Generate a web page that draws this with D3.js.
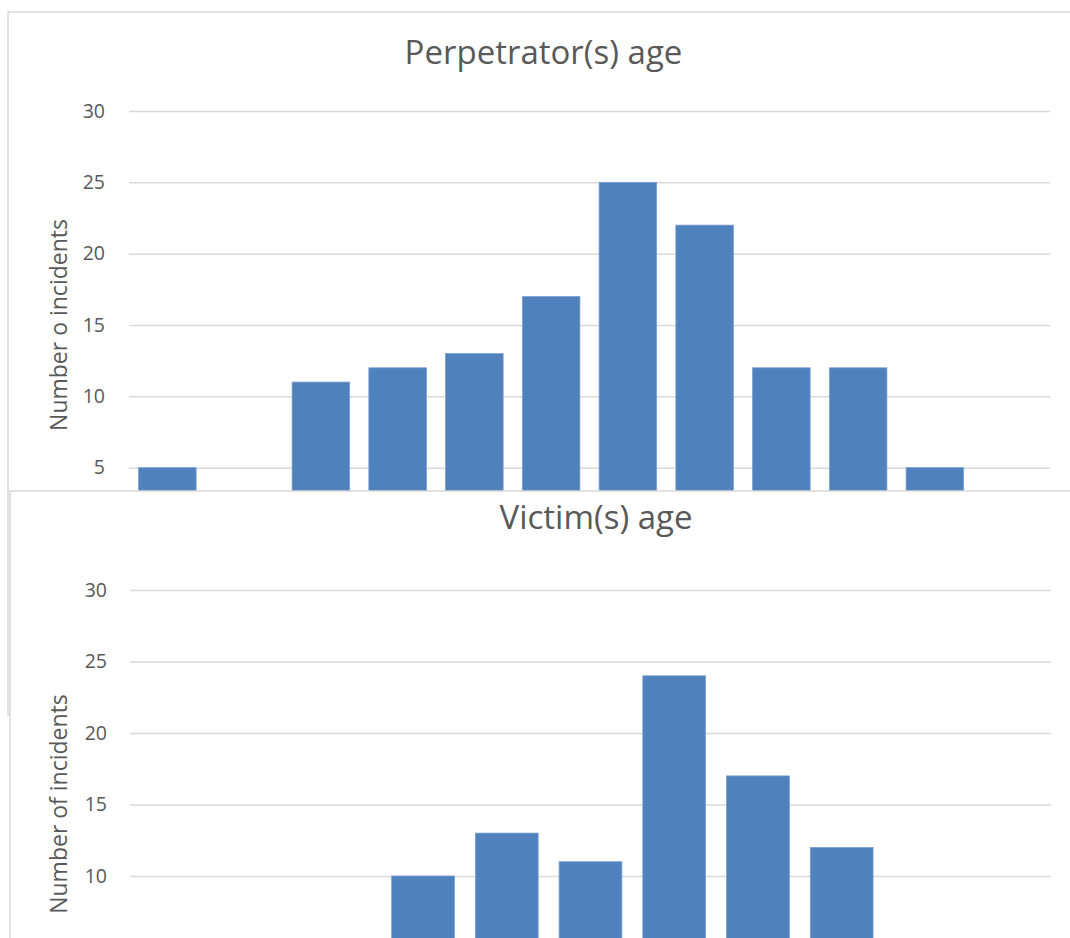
<!DOCTYPE html>
<html>
<head>
<meta charset="utf-8">
<script src="https://cdn.jsdelivr.net/npm/d3@7"></script>
<style>
  html, body { margin: 0; padding: 0; background: #fff; overflow: hidden; }
  svg { display: block; }
  .tick text { fill: #595959; font-family: "Open Sans", sans-serif; font-size: 19.5px; }
  .tick line { stroke: #d9d9d9; stroke-width: 1.5; }
</style>
</head>
<body>
<div id="chart"></div>
<script>
// data (age groups sit below the visible area, their labels are not in the crop)
const perpCategories = ["<10", "10-14", "15-19", "20-24", "25-29", "30-34", "35-39", "40-44", "45-49", "50-54", "55-59", "60+"];
const perpValues = [5, 0, 11, 12, 13, 17, 25, 22, 12, 12, 5, 0];
const perpTicks = [5, 10, 15, 20, 25, 30];

const victimCategories = ["<10", "10-14", "15-19", "20-24", "25-29", "30-34", "35-39", "40-44", "45-49", "50-54", "55+"];
const victimValues = [2, 3, 4, 10, 13, 11, 24, 17, 12, 4, 2];
const victimTicks = [10, 15, 20, 25, 30];

const w = 1070;
const h = 938;
const barColor = "#4f81bd";
const frameColor = "#d9d9d9";
const textColor = "#595959";

const svg = d3.select("#chart").append("svg")
  .attr("width", w)
  .attr("height", h);

function drawChart(g, opts) {
  const x = d3.scaleBand()
    .domain(opts.categories)
    .range([opts.left, opts.right])
    .paddingInner(0.25)
    .paddingOuter(0.125);

  const y = d3.scaleLinear()
    .domain([0, 30])
    .range([opts.zeroY, opts.topY]);

  // gridlines + tick labels
  g.append("g")
    .attr("transform", "translate(" + opts.left + ",0)")
    .call(d3.axisLeft(y)
      .tickValues(opts.ticks)
      .tickSize(-(opts.right - opts.left))
      .tickPadding(opts.pad))
    .call(a => a.select(".domain").remove());

  g.selectAll("rect.bar")
    .data(opts.values)
    .join("rect")
      .attr("class", "bar")
      .attr("x", (d, i) => x(opts.categories[i]))
      .attr("y", d => y(d))
      .attr("width", x.bandwidth())
      .attr("height", d => y(0) - y(d))
      .attr("fill", barColor)
      .attr("stroke", "#7a9fd0")
      .attr("stroke-width", 0.8);

  g.append("text")
    .attr("x", opts.titleX)
    .attr("y", opts.titleY)
    .attr("text-anchor", "middle")
    .style("font-family", "Open Sans, sans-serif")
    .style("font-size", "33px")
    .style("fill", textColor)
    .text(opts.title);

  g.append("text")
    .attr("transform", "translate(" + opts.axisTitleX + "," + opts.axisTitleY + ") rotate(-90)")
    .attr("text-anchor", "middle")
    .attr("dy", "0.35em")
    .style("font-family", "Open Sans, sans-serif")
    .style("font-size", "23px")
    .style("fill", textColor)
    .text(opts.axisTitle);
}

// upper chart: Perpetrator(s) age
const upper = svg.append("g");
upper.append("rect")
  .attr("x", 8).attr("y", 12)
  .attr("width", w + 20).attr("height", 703)
  .attr("fill", "#fff")
  .attr("stroke", frameColor)
  .attr("stroke-width", 1.5);

drawChart(upper, {
  categories: perpCategories,
  values: perpValues,
  ticks: perpTicks,
  left: 129, right: 1050, pad: 24,
  zeroY: 539, topY: 111,
  title: "Perpetrator(s) age",
  titleX: 543.5, titleY: 64,
  axisTitle: "Number o incidents",
  axisTitleX: 59, axisTitleY: 325
});

// lower chart: Victim(s) age, pasted over the lower part
const lower = svg.append("g");
lower.append("rect")
  .attr("x", 10).attr("y", 491)
  .attr("width", w + 20).attr("height", 600)
  .attr("fill", "#fff")
  .attr("stroke", frameColor)
  .attr("stroke-width", 1.5);

drawChart(lower, {
  categories: victimCategories,
  values: victimValues,
  ticks: victimTicks,
  left: 130, right: 1051, pad: 23,
  zeroY: 1019, topY: 590,
  title: "Victim(s) age",
  titleX: 596, titleY: 529,
  axisTitle: "Number of incidents",
  axisTitleX: 59, axisTitleY: 804
});
</script>
</body>
</html>
